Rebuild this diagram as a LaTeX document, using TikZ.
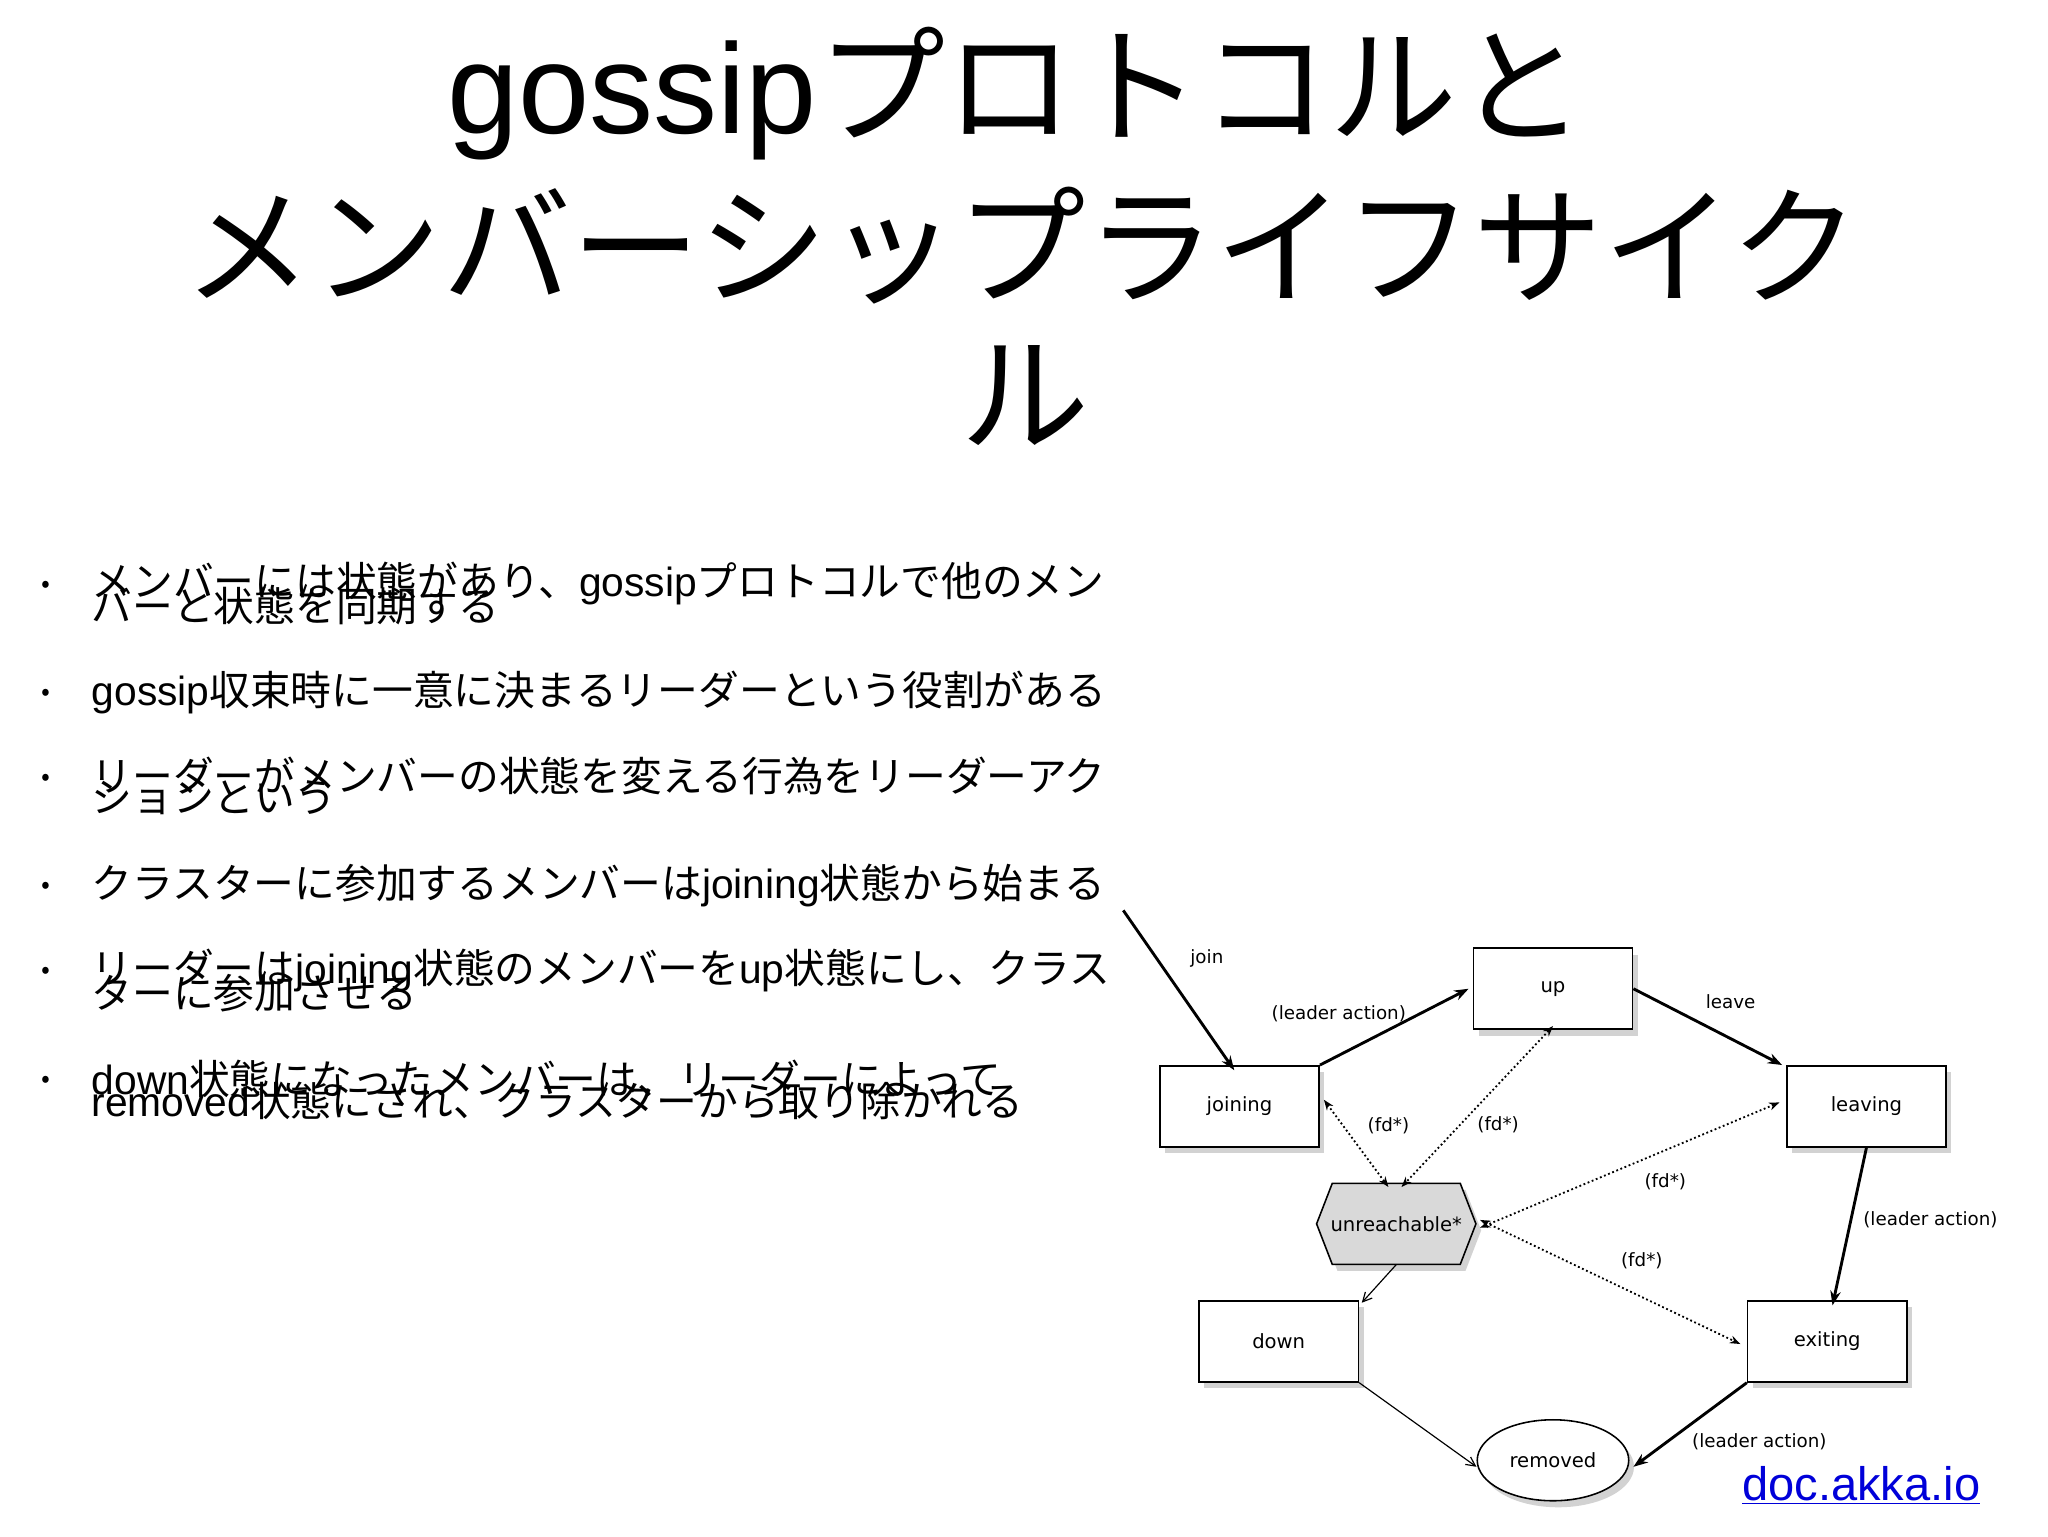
\documentclass[tikz,border=0pt]{standalone}
\usepackage{fontspec}
\setmainfont{Noto Sans CJK JP}
\newfontfamily\djfont{DejaVu Sans}
\newfontfamily\lsfont{Liberation Sans}
\newcommand\lt[1]{{\lsfont #1}}
\usetikzlibrary{shadows,arrows.meta,shapes.geometric}
\begin{document}
\begin{tikzpicture}[x=1pt,y=-1pt,
  st/.style={draw,line width=1.2pt,fill=white,minimum width=122pt,minimum height=62pt,inner sep=0pt,font=\djfont\fontsize{15}{15}\selectfont,drop shadow={shadow xshift=4pt,shadow yshift=-5pt,fill=gray!35,opacity=1}},
  lab/.style={font=\djfont\fontsize{14}{14}\selectfont,inner sep=1pt},
  thk/.style={line width=2.2pt,-{Stealth[length=11pt,width=8pt]}},
  thn/.style={line width=0.9pt,-{Straight Barb[length=7pt,width=7pt]}},
  dot/.style={line width=1.4pt,dotted,{Stealth[length=8pt,width=6pt]}-{Stealth[length=8pt,width=6pt]}},
  bul/.style={anchor=west,font=\fontsize{31.2}{17}\selectfont,inner sep=0pt,align=left}]
\useasboundingbox (0,0) rectangle (1568,1176);
\fill[white] (0,0) rectangle (1568,1176);
% title
\node (t1) at (778,72) {\fontsize{98}{98}\selectfont \lt{gossip}プロトコルと};
\node (t2) at (782,188) {\fontsize{99}{99}\selectfont メンバーシップライフサイク};
\node (t3) at (785,303) {\fontsize{99}{99}\selectfont ル};
% bullets
\foreach \y/\n in {447/a,530/b,595/c,678/d,743/e,826/f}{\node[font=\fontsize{20}{20}\selectfont] (d\n) at (35,\y+2) {•};}
\node[bul] (b1) at (70,447) {メンバーには状態があり、\lt{gossip}プロトコルで他のメン};
\node[bul] (b1b) at (70,464) {バーと状態を同期する};
\node[bul] (b2) at (70,530) {\lt{gossip}収束時に一意に決まるリーダーという役割がある};
\node[bul] (b3) at (70,594) {リーダーがメンバーの状態を変える行為をリーダーアク};
\node[bul] (b3b) at (70,611) {ションという};
\node[bul] (b4) at (70,678) {クラスターに参加するメンバーは\lt{joining}状態から始まる};
\node[bul] (b5) at (70,743) {リーダーは\lt{joining}状態のメンバーを\lt{up}状態にし、クラス};
\node[bul] (b5b) at (70,760) {ターに参加させる};
\node[bul] (b6) at (70,826) {\lt{down}状態になったメンバーは、リーダーによって};
\node[bul] (b6b) at (70,843) {\lt{removed}状態にされ、クラスターから取り除かれる};
% diagram
\node[st] (up) at (1189,757) {up};
\node[st] (joining) at (949,847) {joining};
\node[st] (leaving) at (1429,847) {leaving};
\node[st] (down) at (979,1027) {down};
\node[st] (exiting) at (1399,1027) {exiting};
\node[st,ellipse,minimum width=116pt,minimum height=62pt] (removed) at (1189,1118) {removed};
\filldraw[line width=1.2pt,fill=gray!30,drop shadow={shadow xshift=4pt,shadow yshift=-5pt,fill=gray!35,opacity=1}] (1008,937)--(1020,906)--(1118,906)--(1130,937)--(1118,968)--(1020,968)--cycle;
\node[minimum width=122pt,minimum height=62pt,inner sep=0pt,font=\djfont\fontsize{15}{15}\selectfont] (unr) at (1069,937) {unreachable*};
\coordinate (js) at (860,697);
\draw[thk] (js) -- ([xshift=-4pt,yshift=-4pt]joining.north);
\draw[thk] (joining.north east) -- ([xshift=-3pt]up.west);
\draw[thk] (up.east) -- ([xshift=-3pt]leaving.north west);
\draw[thk] (leaving.south) -- ([xshift=4pt,yshift=-4pt]exiting.north);
\draw[thk] (exiting.south west) -- ([xshift=3pt,yshift=-5pt]removed.east);
\draw[thn] (down.south east) -- ([yshift=-5pt]removed.west);
\draw[thn] (unr.south) -- ([xshift=2pt,yshift=-2pt]down.north east);
\draw[dot] ([xshift=3pt,yshift=5pt]joining.east) -- ([xshift=-6pt,yshift=-3pt]unr.north);
\draw[dot] ([yshift=3pt]up.south) -- ([xshift=4pt,yshift=-3pt]unr.north);
\draw[dot] ([xshift=-5pt,yshift=3pt]leaving.west) -- ([xshift=3pt,yshift=-3pt]unr.east);
\draw[dot] ([xshift=3pt,yshift=3pt]unr.east) -- ([xshift=-5pt,yshift=-2pt]exiting.west);
\node[lab] (l1) at (924,734) {join};
\node[lab] (l2) at (1025,776) {(leader action)};
\node[lab] (l3) at (1325,767) {leave};
\node[lab] (l4) at (1478,934) {(leader action)};
\node[lab] (l5) at (1347,1104) {(leader action)};
\node[lab] (f1) at (1063,862) {(fd*)};
\node[lab] (f2) at (1147,861) {(fd*)};
\node[lab] (f3) at (1275,905) {(fd*)};
\node[lab] (f4) at (1257,965) {(fd*)};
\node[font=\lsfont\fontsize{36}{36}\selectfont,text=blue!85!black,inner sep=0pt] (akka) at (1425,1137) {\underline{doc.akka.io}};
\end{tikzpicture}
\end{document}
